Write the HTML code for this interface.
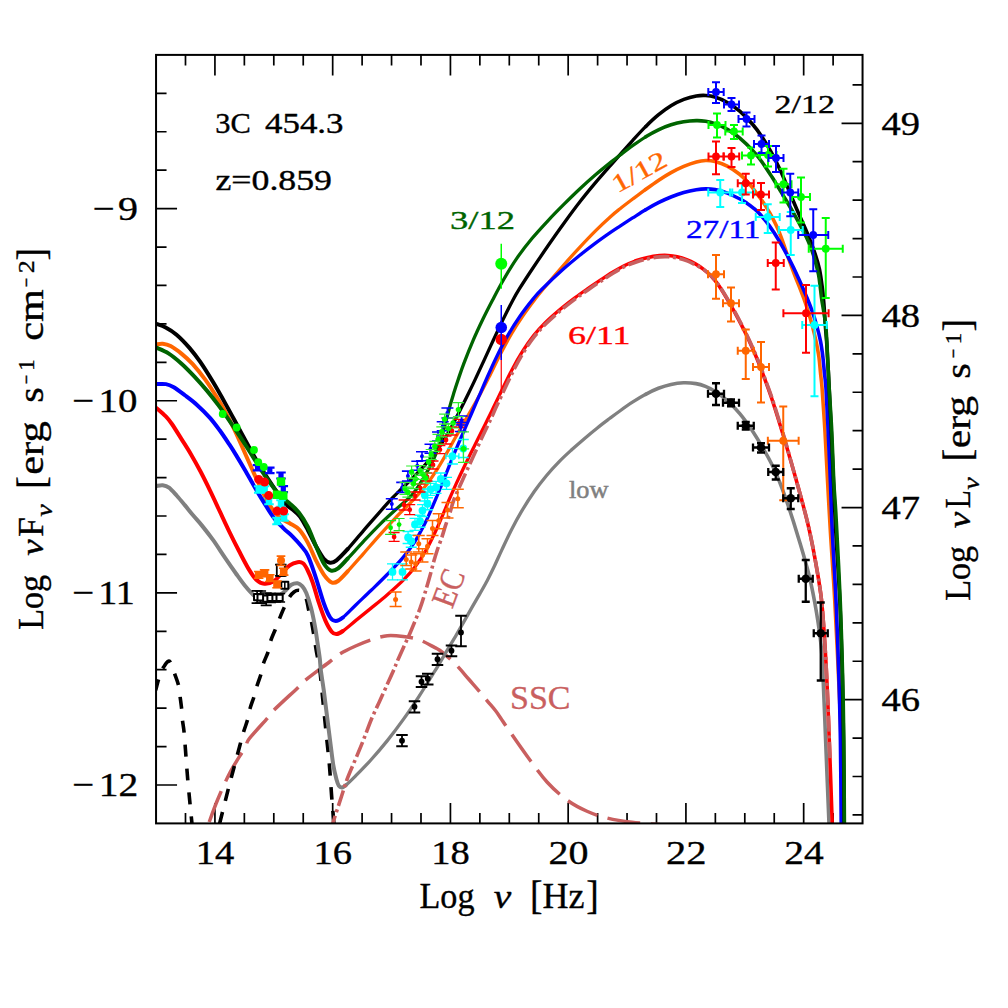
<!DOCTYPE html>
<html><head><meta charset="utf-8"><title>3C 454.3 SED</title>
<style>
html,body{margin:0;padding:0;background:#fff;}
body{width:1008px;height:1008px;overflow:hidden;font-family:"Liberation Serif",serif;}
svg{display:block;}
text{font-family:"Liberation Serif",serif;}
</style></head><body>
<svg width="1008" height="1008" viewBox="0 0 1008 1008">
<rect x="0" y="0" width="1008" height="1008" fill="#fff"/>
<defs><clipPath id="cp"><rect x="156.05" y="54.9" width="706.5" height="768.5"/></clipPath></defs>
<path d="M185.49,823.4v-10.5M185.49,54.9v10.5M214.93,823.4v-20.5M214.93,54.9v20.5M244.36,823.4v-10.5M244.36,54.9v10.5M273.8,823.4v-10.5M273.8,54.9v10.5M303.24,823.4v-10.5M303.24,54.9v10.5M332.68,823.4v-20.5M332.68,54.9v20.5M362.11,823.4v-10.5M362.11,54.9v10.5M391.55,823.4v-10.5M391.55,54.9v10.5M420.99,823.4v-10.5M420.99,54.9v10.5M450.43,823.4v-20.5M450.43,54.9v20.5M479.86,823.4v-10.5M479.86,54.9v10.5M509.3,823.4v-10.5M509.3,54.9v10.5M538.74,823.4v-10.5M538.74,54.9v10.5M568.17,823.4v-20.5M568.17,54.9v20.5M597.61,823.4v-10.5M597.61,54.9v10.5M627.05,823.4v-10.5M627.05,54.9v10.5M656.49,823.4v-10.5M656.49,54.9v10.5M685.92,823.4v-20.5M685.92,54.9v20.5M715.36,823.4v-10.5M715.36,54.9v10.5M744.8,823.4v-10.5M744.8,54.9v10.5M774.24,823.4v-10.5M774.24,54.9v10.5M803.67,823.4v-20.5M803.67,54.9v20.5M833.11,823.4v-10.5M833.11,54.9v10.5M156.05,784.98h21M156.05,746.55h10.5M156.05,708.13h10.5M156.05,669.7h10.5M156.05,631.28h10.5M156.05,592.85h21M156.05,554.43h10.5M156.05,516h10.5M156.05,477.58h10.5M156.05,439.15h10.5M156.05,400.73h21M156.05,362.3h10.5M156.05,323.88h10.5M156.05,285.45h10.5M156.05,247.03h10.5M156.05,208.6h21M156.05,170.18h10.5M156.05,131.75h10.5M156.05,93.33h10.5M862.55,814.95h-10M862.55,776.52h-10M862.55,738.1h-10M862.55,699.67h-21M862.55,661.25h-10M862.55,622.82h-10M862.55,584.4h-10M862.55,545.97h-10M862.55,507.55h-21M862.55,469.12h-10M862.55,430.7h-10M862.55,392.27h-10M862.55,353.85h-10M862.55,315.42h-21M862.55,277h-10M862.55,238.57h-10M862.55,200.15h-10M862.55,161.72h-10M862.55,123.3h-21M862.55,84.87h-10" stroke="#000" stroke-width="1.7" fill="none"/>
<g clip-path="url(#cp)" fill="none" stroke-linejoin="round">
<path d="M208.5,824C210,820 213.92,808.58 217.5,800C221.08,791.42 225.42,781.25 230,772.5C234.58,763.75 241.8,753.13 245,747.5C248.2,741.87 245.45,743.6 249.2,738.7C252.95,733.8 263.4,722.85 267.5,718.1C271.6,713.35 268.78,715.23 273.8,710.2C278.82,705.17 292.4,692.85 297.6,687.9C302.8,682.95 299.6,684.9 305,680.5C310.4,676.1 324.22,665.92 330,661.5C335.78,657.08 335.43,656.58 339.7,654C343.97,651.42 350.32,648.38 355.6,646C360.88,643.62 366.12,641.42 371.4,639.7C376.68,637.98 382,636.23 387.3,635.7C392.6,635.17 397.92,635.83 403.2,636.5C408.48,637.17 413.72,637.85 419,639.7C424.28,641.55 431.4,645.8 434.9,647.6C438.4,649.4 437.57,648.7 440,650.5C442.43,652.3 446.33,655.5 449.5,658.4C452.67,661.3 455.82,664.47 459,667.9C462.18,671.33 465.15,675.03 468.6,679C472.05,682.97 476.53,687.98 479.7,691.7C482.87,695.42 484.95,698.12 487.6,701.3C490.25,704.48 493.35,707.9 495.6,710.8C497.85,713.7 499.2,715.92 501.1,718.7C503,721.48 502.68,721.28 507,727.5C511.32,733.72 520.33,746.92 527,756C533.67,765.08 540.33,774.67 547,782C553.67,789.33 560.33,795.12 567,800C573.67,804.88 580.33,808.25 587,811.25C593.67,814.25 599.5,816.16 607,818C614.5,819.84 623.17,821.22 632,822.3C640.83,823.38 655.33,824.13 660,824.5" stroke="#c95f5f" stroke-width="3.5" stroke-dasharray="33 10.5" stroke-dashoffset="41.1"/>
<path d="M219.5,824C220.42,820.33 223.25,808.92 225,802C226.75,795.08 227.5,792 230,782.5C232.5,773 237.72,753.48 240,745C242.28,736.52 242.43,735.82 243.7,731.6C244.97,727.38 246.55,723.53 247.6,719.7C248.65,715.87 248.93,712.43 250,708.6C251.07,704.77 252.82,700.53 254,696.7C255.18,692.87 255.92,689.43 257.1,685.6C258.28,681.77 260.03,677.42 261.1,673.7C262.17,669.98 262.3,667.02 263.5,663.3C264.7,659.58 267.12,655.1 268.3,651.4C269.48,647.7 269.42,644.8 270.6,641.1C271.78,637.4 273.93,632.9 275.4,629.2C276.87,625.5 277.95,622.47 279.4,618.9C280.85,615.33 282.38,611.5 284.1,607.8C285.82,604.1 288.05,599.33 289.7,596.7C291.35,594.07 292.55,593.07 294,592C295.45,590.93 296.98,590.3 298.4,590.3C299.82,590.3 301.18,590.55 302.5,592C303.82,593.45 305.27,595.97 306.3,599C307.33,602.03 307.83,606.37 308.7,610.2C309.57,614.03 310.62,617.7 311.5,622C312.38,626.3 313.17,631 314,636C314.83,641 315.53,646.33 316.5,652C317.47,657.67 318.72,661.72 319.8,670C320.88,678.28 321.93,691.12 323,701.7C324.07,712.28 325.13,722.92 326.2,733.5C327.27,744.08 328.48,754.62 329.4,765.2C330.32,775.78 330.98,787.73 331.7,797C332.42,806.27 333.32,816.3 333.7,820.8C334.08,825.3 333.95,823.47 334,824" stroke="#000000" stroke-width="3.6" stroke-dasharray="12.4 11.4" stroke-dashoffset="0"/>
<path d="M156.3,486C157.37,485.87 160.58,484.93 162.7,485.2C164.82,485.47 166.64,485.84 169,487.6C171.36,489.36 174.2,492.82 176.84,495.75C179.48,498.67 182.13,501.9 184.83,505.15C187.54,508.4 190.18,511.8 193.07,515.25C195.97,518.71 198.84,521.71 202.2,525.87C205.55,530.03 209.44,534.96 213.2,540.21C216.96,545.46 220.99,551.89 224.76,557.4C228.52,562.9 232.38,568.47 235.78,573.24C239.19,578.01 242.03,582.16 245.2,586C248.37,589.84 252,593.88 254.8,596.3C257.6,598.72 259.13,599.88 262,600.5C264.87,601.12 269,600.83 272,600C275,599.17 277.85,596.98 280,595.5C282.15,594.02 283.02,592.88 284.9,591.1C286.78,589.32 289.18,586.12 291.3,584.8C293.42,583.48 295.75,582.95 297.6,583.2C299.45,583.45 300.95,584.67 302.4,586.3C303.85,587.93 304.85,589.4 306.3,593C307.75,596.6 309.63,602.23 311.1,607.9C312.57,613.57 314.03,621.17 315.1,627C316.17,632.83 316.72,637.62 317.5,642.9C318.28,648.18 319.25,654.18 319.8,658.7C320.35,663.22 320.13,664.68 320.8,670C321.47,675.32 322.77,682.93 323.8,690.6C324.83,698.27 325.93,707.53 327,716C328.07,724.47 329.15,733.2 330.2,741.4C331.25,749.6 332.25,758.85 333.3,765.2C334.35,771.55 335.57,776.05 336.5,779.5C337.43,782.95 337.97,784.57 338.9,785.9C339.83,787.23 340.92,787.63 342.1,787.5C343.28,787.37 343.78,787 346,785.1" stroke="#808080" stroke-width="4.0" stroke-linecap="round" />
<path d="M346,785.1C348.22,783.2 351.26,780.27 355.4,776.09C359.54,771.91 365.59,765.82 370.84,759.99C376.1,754.16 381.64,747.71 386.94,741.11C392.24,734.51 397.35,727.78 402.64,720.4C407.93,713.01 413.36,704.96 418.69,696.8C424.02,688.64 430.89,677.48 434.63,671.44C438.36,665.4 438.87,664.3 441.1,660.56C443.33,656.81 445.56,653.04 447.99,648.95C450.41,644.87 453.03,640.57 455.67,636.06C458.3,631.55 461.09,626.62 463.79,621.89C466.48,617.16 469.19,612.31 471.83,607.68C474.48,603.04 477.08,598.62 479.66,594.08C482.24,589.54 484.92,584.89 487.29,580.43C489.65,575.97 491.39,572.47 493.84,567.33C496.29,562.2 498.98,555.97 501.96,549.62C504.95,543.27 508.53,535.52 511.75,529.23C514.96,522.93 517.5,518.14 521.25,511.86C525,505.58 530.05,497.61 534.27,491.54C538.5,485.47 542.41,480.47 546.6,475.44C550.8,470.4 555.26,465.62 559.44,461.34C563.61,457.06 567.51,453.55 571.66,449.77C575.81,445.99 580.07,442.3 584.35,438.65C588.63,435.01 593.13,431.28 597.33,427.93C601.54,424.57 605.78,421.41 609.58,418.54C613.39,415.68 616.29,413.49 620.17,410.73C624.05,407.97 628.63,404.72 632.88,401.98C637.13,399.24 641.42,396.58 645.67,394.29" stroke="#808080" stroke-width="3.3" stroke-linecap="round" />
<path d="M645.67,394.29C649.93,392.01 654.19,389.92 658.41,388.27C662.63,386.62 666.81,385.31 671,384.4C675.18,383.48 679.37,382.93 683.53,382.8C687.7,382.67 692.31,383.02 695.96,383.62C699.62,384.23 702.34,385.15 705.48,386.42C708.62,387.69 711.22,388.92 714.81,391.25C718.4,393.57 722.88,396.66 727.05,400.39C731.21,404.11 735.76,408.8 739.77,413.58C743.79,418.36 747.32,423.34 751.16,429.05C754.99,434.77 759.38,442.02 762.8,447.86C766.22,453.69 768.91,458.49 771.67,464.07C774.43,469.66 776.52,474.18 779.36,481.35C782.2,488.52 785.53,497.71 788.7,507.1C791.87,516.49 794.99,526.37 798.37,537.69C801.76,549 805.98,562.53 809,575C812.02,587.47 814.42,600 816.5,612.5C818.58,625 820.25,635.42 821.5,650C822.75,664.58 823.25,683.33 824,700C824.75,716.67 825.17,729.33 826,750C826.83,770.67 828.5,811.67 829,824" stroke="#808080" stroke-width="3.6" stroke-linecap="round" />
<path d="M155.6,690.3C156.12,688.45 157.8,682.25 158.7,679.2C159.6,676.15 160.2,673.98 161,672C161.8,670.02 162.42,669.02 163.5,667.3C164.58,665.58 166.32,662.5 167.5,661.7C168.68,660.9 169.42,660.5 170.6,662.5C171.78,664.5 173.27,669.85 174.6,673.7C175.93,677.55 177.67,681.63 178.6,685.6C179.53,689.57 179.68,693.53 180.2,697.5C180.72,701.47 181.32,705.57 181.7,709.4C182.08,713.23 182.1,716.67 182.5,720.5C182.9,724.33 183.52,726.32 184.1,732.4C184.68,738.48 185.35,748.65 186,757C186.65,765.35 187,771.33 188,782.5C189,793.67 191.33,817.08 192,824" stroke="#000000" stroke-width="3.6" stroke-dasharray="12 12" stroke-dashoffset="1"/>
<path d="M156.3,407.9C157.85,409.29 162.97,413.53 165.58,416.22C168.18,418.9 169.2,420.1 171.91,424C174.62,427.9 178.64,434.54 181.83,439.62C185.02,444.69 187.9,449.1 191.04,454.46C194.18,459.82 197.47,465.71 200.66,471.77C203.85,477.84 206.99,484.25 210.18,490.86C213.37,497.46 216.59,504.53 219.81,511.4C223.03,518.26 226.31,525.44 229.52,532.04C232.72,538.65 235.88,544.94 239.02,551.04C242.17,557.13 245.52,563.82 248.4,568.6C251.28,573.38 253.65,577.18 256.3,579.7C258.95,582.22 261.38,583.43 264.3,583.7C267.22,583.97 270.9,583.03 273.8,581.3C276.7,579.57 279.05,575.95 281.7,573.3C284.35,570.65 287.05,567.25 289.7,565.4C292.35,563.55 295.38,562.55 297.6,562.2C299.82,561.85 301.35,562 303,563.3C304.65,564.6 305.88,566.8 307.5,570C309.12,573.2 310.78,576.97 312.7,582.5C314.62,588.03 316.88,596.85 319,603.2C321.12,609.55 323.28,615.85 325.4,620.6C327.52,625.35 329.85,629.45 331.7,631.7C333.55,633.95 334.63,634.22 336.5,634.1C338.37,633.98 339.71,633.24 342.9,631" stroke="#ff0000" stroke-width="4.0" stroke-linecap="round" />
<path d="M342.9,631C346.09,628.76 350.89,624.5 355.63,620.64C360.38,616.79 366.15,612.18 371.39,607.89C376.62,603.59 381.8,599.44 387.04,594.89C392.27,590.34 398.19,585.17 402.8,580.59C407.41,576 410.85,572.42 414.72,567.36C418.59,562.31 422.45,556.48 426.02,550.26C429.59,544.04 432.87,537.12 436.15,530.04C439.44,522.97 443.58,512.87 445.75,507.8C447.91,502.73 447.39,503.67 449.14,499.64C450.89,495.61 453.85,488.86 456.24,483.62C458.63,478.38 461.09,473.15 463.47,468.18C465.85,463.21 468.14,458.58 470.5,453.8C472.86,449.02 475.24,444.28 477.62,439.51C480,434.74 482.42,429.95 484.78,425.19C487.15,420.43 489.3,416.12 491.82,410.96C494.33,405.8 496.55,401.04 499.88,394.24C503.2,387.45 507.96,377.36 511.76,370.19C515.55,363.02 518.96,357.01 522.64,351.21C526.32,345.41 530.09,340.11 533.82,335.39C537.55,330.68 540.61,327.27 545.01,322.92C549.42,318.57 555.21,313.52 560.24,309.29C565.27,305.07 570.67,300.97 575.2,297.57C579.72,294.16 583.28,291.72 587.41,288.86C591.53,285.99 595.81,283.13 599.93,280.39C604.05,277.66 608.09,274.9 612.12,272.44C616.15,269.99 620.17,267.63 624.13,265.67C628.09,263.72 631.95,262.1 635.88,260.72" stroke="#ff0000" stroke-width="3.3" stroke-linecap="round" />
<path d="M635.88,260.72C639.82,259.34 643.8,258.25 647.75,257.39C651.69,256.54 656.18,255.94 659.53,255.61C662.89,255.29 664.92,255.27 667.87,255.46C670.83,255.65 674.13,256.05 677.26,256.74C680.39,257.43 683.71,258.45 686.67,259.59C689.62,260.73 692.22,262 694.98,263.58C697.75,265.16 700.53,266.94 703.26,269.06C705.98,271.17 708.68,273.43 711.33,276.26C713.97,279.08 716,281.42 719.11,286.01C722.21,290.6 726.62,298.04 729.97,303.82C733.31,309.6 736.07,314.69 739.19,320.67C742.3,326.64 745.58,333.01 748.67,339.66C751.76,346.3 754.47,352.38 757.74,360.54C761.01,368.7 765.67,381.44 768.29,388.63C770.91,395.82 770.88,395.61 773.46,403.68C776.05,411.76 780.38,425.67 783.79,437.06C787.21,448.45 790.64,460.34 793.95,472.02C797.25,483.69 801,497.08 803.63,507.1C806.27,517.11 807.74,522.86 809.75,532.11C811.76,541.37 813.74,551.32 815.7,562.64C817.66,573.95 819.91,585.44 821.5,600C823.09,614.56 824.21,633.33 825.25,650C826.29,666.67 826.96,681.67 827.75,700C828.54,718.33 829.25,739.33 830,760C830.75,780.67 831.88,813.33 832.25,824" stroke="#ff0000" stroke-width="3.6" stroke-linecap="round" />
<path d="M332.6,824C332.85,823.2 332.65,823.7 334.1,819.2C335.55,814.7 339.05,803.88 341.3,797C343.55,790.12 345.22,784.25 347.6,777.9C349.98,771.55 352.95,765.25 355.6,758.9C358.25,752.55 360.87,746.42 363.5,739.8C366.13,733.18 368.75,725.55 371.4,719.2C374.05,712.85 376.75,707.52 379.4,701.7C382.05,695.88 384.92,689.58 387.3,684.3C389.68,679.02 391.85,674.27 393.7,670C395.55,665.73 395.58,665.08 398.4,658.7C401.22,652.32 406.97,640.17 410.6,631.7C414.23,623.23 417.53,615.27 420.2,607.9C422.87,600.53 424.93,592.98 426.6,587.5C428.27,582.02 429.01,579.32 430.2,575C431.39,570.68 432.57,565.77 433.75,561.6C434.93,557.43 435.96,554.02 437.3,550C438.64,545.98 440.45,541.52 441.8,537.5C443.15,533.48 443.98,530.22 445.4,525.9C446.82,521.58 448.9,515.92 450.3,511.6C451.7,507.28 451.85,505.07 453.8,500C455.75,494.93 458.83,488.3 462,481.2C465.17,474.1 469.35,464.93 472.8,457.4C476.25,449.87 479.63,442.55 482.7,436C485.77,429.45 488.7,423.47 491.2,418.1C493.7,412.73 493.96,411.78 497.7,403.8C501.44,395.82 509.25,378.96 513.66,370.19C518.08,361.43 520.68,356.87 524.19,351.21C527.69,345.54 531.06,340.77 534.67,336.19C538.28,331.61 541.46,328.07 545.86,323.72C550.27,319.37 556.06,314.32 561.09,310.09C566.12,305.87 571.52,301.77 576.05,298.37C580.57,294.96 584.13,292.52 588.26,289.66C592.38,286.79 596.66,283.93 600.78,281.19C604.9,278.46 608.94,275.7 612.97,273.24C617,270.79 621.1,268.34 624.98,266.47C628.87,264.6 632.42,263.32 636.28,262.02C640.14,260.73 644.2,259.55 648.15,258.69C652.09,257.84 656.58,257.24 659.93,256.91C663.29,256.59 665.32,256.57 668.27,256.76C671.23,256.95 674.53,257.35 677.66,258.04C680.79,258.73 684.11,259.75 687.07,260.89C690.02,262.03 692.57,263.42 695.38,264.88C698.2,266.34 701.18,267.66 703.96,269.66C706.73,271.65 709.38,274.03 712.03,276.86C714.67,279.68 716.7,282.02 719.81,286.61C722.91,291.2 727.32,298.64 730.67,304.42C734.01,310.2 736.82,315.38 739.89,321.27C742.95,327.16 746.03,333.19 749.07,339.76C752.11,346.32 754.87,352.48 758.14,360.64C761.41,368.8 766.07,381.54 768.69,388.73C771.31,395.92 771.28,395.71 773.86,403.78C776.45,411.86 780.85,425.79 784.19,437.16C787.54,448.53 790.71,460.36 793.95,472.02C797.19,483.67 801,497.08 803.63,507.1C806.27,517.11 807.74,522.86 809.75,532.11C811.76,541.37 813.74,551.32 815.7,562.64C817.66,573.95 819.91,585.44 821.5,600C823.09,614.56 824.21,633.33 825.25,650C826.29,666.67 826.96,681.67 827.75,700C828.54,718.33 829.62,750 830,760" stroke="#c95f5f" stroke-width="3.6" stroke-dasharray="16 3.6 3 3.6" stroke-dashoffset="7.2"/>
<path d="M156.3,344.4C157.37,344.28 160.32,343.43 162.7,343.7C165.08,343.97 167.48,344.35 170.6,346C173.72,347.65 177.76,350.6 181.41,353.58C185.06,356.55 188.54,359.52 192.51,363.86C196.48,368.21 201.23,374.15 205.25,379.65C209.26,385.15 213.15,391.33 216.6,396.86C220.05,402.39 222.8,407.02 225.94,412.84C229.08,418.67 232.5,425.54 235.47,431.81C238.44,438.08 240.82,443.82 243.78,450.47C246.73,457.12 250.28,465.26 253.21,471.7C256.14,478.13 258.46,483.24 261.36,489.07C264.25,494.91 267.46,501.91 270.6,506.7C273.74,511.49 277.02,515.03 280.2,517.8C283.38,520.57 286.53,521.32 289.7,523.3C292.87,525.28 296.17,526.43 299.2,529.7C302.23,532.97 305.12,537.8 307.9,542.9C310.68,548 313.25,555.02 315.9,560.3C318.55,565.58 321.17,570.9 323.8,574.6C326.43,578.3 329.32,581.43 331.7,582.5C334.08,583.57 335.45,582.85 338.1,581C340.75,579.15 343.41,575.93 347.6,571.4" stroke="#ff6600" stroke-width="4.0" stroke-linecap="round" />
<path d="M347.6,571.4C351.79,566.87 357.92,559.84 363.26,553.79C368.6,547.74 374.28,541.12 379.65,535.12C385.03,529.12 390.25,523.36 395.52,517.8C400.79,512.25 407.98,505.17 411.29,501.81C414.6,498.45 412.78,500.59 415.37,497.66C417.97,494.73 423.32,488.8 426.87,484.23C430.41,479.66 433.4,475.32 436.66,470.22C439.92,465.13 443.5,458.74 446.42,453.65C449.34,448.56 451.37,444.65 454.17,439.7C456.97,434.75 460.11,429.34 463.21,423.95C466.32,418.55 469.82,412.59 472.79,407.34C475.77,402.09 478.34,397.51 481.06,392.42C483.78,387.34 485.91,383.17 489.12,376.81C492.33,370.45 496.59,361.46 500.33,354.26C504.06,347.06 507.84,339.95 511.54,333.62C515.25,327.29 518.7,321.99 522.58,316.3C526.46,310.62 531.38,304.07 534.82,299.52C538.26,294.96 538.41,294.71 543.23,288.97C548.04,283.23 557.66,271.98 563.7,265.08C569.74,258.18 574.12,253.31 579.46,247.55C584.8,241.8 590.43,235.81 595.75,230.55C601.06,225.29 607.28,219.61 611.34,215.98C615.39,212.34 616.53,211.55 620.1,208.72C623.66,205.9 628.5,202.23 632.72,199.03C636.95,195.84 641.16,192.65 645.43,189.55" stroke="#ff6600" stroke-width="3.3" stroke-linecap="round" />
<path d="M645.43,189.55C649.71,186.44 654.1,183.22 658.37,180.39C662.64,177.56 666.83,174.91 671.06,172.57C675.29,170.22 679.53,168.07 683.76,166.3C687.98,164.52 692.76,162.85 696.42,161.89C700.08,160.92 702.64,160.58 705.73,160.5C708.81,160.43 711.34,160.51 714.93,161.44C718.52,162.38 723.1,163.95 727.26,166.13C731.43,168.31 736.24,171.56 739.92,174.52C743.61,177.48 746.07,180.07 749.37,183.89C752.68,187.71 757.26,194.09 759.75,197.46C762.24,200.84 762.69,201.58 764.33,204.12C765.97,206.65 767.73,209.37 769.6,212.67C771.48,215.98 773.91,220.56 775.57,223.96C777.24,227.36 778.34,229.98 779.6,233.08C780.85,236.18 781.56,238.18 783.1,242.57C784.65,246.95 786.95,253.95 788.89,259.4C790.83,264.86 792.85,270.3 794.76,275.3C796.66,280.29 798.78,285.38 800.33,289.37C801.89,293.36 802.89,295.89 804.09,299.24C805.3,302.59 806.22,305.13 807.57,309.47C808.92,313.81 810.8,319.99 812.2,325.28C813.6,330.57 814.86,335.92 815.98,341.21C817.1,346.49 818.15,351.72 818.9,357C819.65,362.28 819.97,367.62 820.5,372.9C821.03,378.18 821.35,378.85 822.1,388.7C822.85,398.55 824.08,416.45 825,432C825.92,447.55 826.7,465.33 827.6,482C828.5,498.67 829.22,512.33 830.4,532C831.58,551.67 833.17,572 834.7,600C836.23,628 838.47,673.33 839.6,700C840.73,726.67 841.05,739.33 841.5,760C841.95,780.67 842.17,813.33 842.3,824" stroke="#ff6600" stroke-width="3.6" stroke-linecap="round" />
<path d="M156.3,384.1C157.9,384.1 162.98,383.57 165.9,384.1C168.82,384.63 170.64,385.44 173.8,387.3C176.96,389.16 180.93,392.29 184.85,395.27C188.77,398.24 193.11,401.39 197.29,405.15C201.48,408.91 206.21,413.63 209.94,417.82C213.67,422.01 216.44,425.85 219.67,430.29C222.91,434.73 226.68,440.43 229.34,444.44C232,448.45 233.01,450.04 235.63,454.34C238.26,458.65 241.87,464.73 245.09,470.27C248.3,475.8 251.69,482.01 254.91,487.53C258.14,493.06 261.3,498.36 264.44,503.41C267.59,508.45 270.66,513.68 273.8,517.8C276.94,521.92 280.12,524.93 283.3,528.1C286.48,531.27 289.98,533.88 292.9,536.8C295.82,539.72 298.3,542.47 300.8,545.6C303.3,548.73 305.38,550.23 307.9,555.6C310.42,560.97 313.25,569.87 315.9,577.8C318.55,585.73 321.42,596.58 323.8,603.2C326.18,609.82 328.22,614.53 330.2,617.5C332.18,620.47 333.58,621 335.7,621C337.82,621 339.55,620.17 342.9,617.5" stroke="#0000ff" stroke-width="4.0" stroke-linecap="round" />
<path d="M342.9,617.5C346.25,614.83 351.07,609.53 355.79,605C360.5,600.46 365.95,595.36 371.19,590.28C376.42,585.19 381.98,579.87 387.2,574.5C392.42,569.14 397.94,563.5 402.51,558.09C407.07,552.68 410.84,547.8 414.57,542.05C418.3,536.29 422.15,528.9 424.89,523.56C427.63,518.22 429.14,514.26 431.01,510C432.88,505.75 434.15,502.67 436.1,498.04C438.05,493.41 440.51,487.61 442.7,482.24C444.89,476.86 447.17,470.93 449.24,465.79C451.31,460.66 452.77,457.01 455.12,451.45C457.46,445.89 460.56,438.77 463.32,432.41C466.07,426.05 469.06,419.23 471.65,413.28C474.23,407.33 476.41,402.25 478.81,396.7C481.2,391.16 483.23,386.31 486.03,380.01C488.83,373.72 492.1,366.11 495.59,358.93C499.08,351.75 502.93,344 506.97,336.93C511,329.86 515.39,322.91 519.79,316.53C524.2,310.15 529.69,303.19 533.37,298.64C537.05,294.1 536.79,294.26 541.88,289.25C546.97,284.24 557.66,274.22 563.93,268.59C570.19,262.96 574.21,259.74 579.47,255.48C584.72,251.23 590.18,247.01 595.47,243.06C600.77,239.12 607.15,234.65 611.24,231.81C615.33,228.97 616.45,228.33 620.02,226.02C623.58,223.72 628.34,220.67 632.61,217.96C636.88,215.26 641.34,212.32 645.63,209.78" stroke="#0000ff" stroke-width="3.3" stroke-linecap="round" />
<path d="M645.63,209.78C649.92,207.23 654.14,204.83 658.35,202.7C662.57,200.58 666.71,198.71 670.93,197.02C675.16,195.34 679.48,193.81 683.7,192.6C687.93,191.38 692.62,190.37 696.28,189.75C699.95,189.14 702.58,188.92 705.71,188.9C708.84,188.88 711.44,188.92 715.06,189.62C718.68,190.31 723.2,191.48 727.44,193.08C731.67,194.69 737.22,197.56 740.46,199.24C743.7,200.92 744.66,201.67 746.88,203.18C749.1,204.69 751.64,206.52 753.76,208.29C755.88,210.07 757,210.9 759.58,213.8C762.16,216.7 765.96,221.15 769.24,225.68C772.52,230.22 775.89,235.35 779.27,241.01C782.65,246.67 786.2,253.21 789.51,259.65C792.83,266.09 796.16,273.05 799.17,279.64C802.18,286.23 805.41,293.96 807.57,299.21C809.74,304.46 810.65,306.76 812.16,311.12C813.67,315.49 815.26,320.38 816.65,325.38C818.04,330.37 819.46,335.83 820.5,341.1C821.54,346.37 822.25,351.7 822.9,357C823.55,362.3 823.88,367.62 824.4,372.9C824.92,378.18 825.37,378.85 826,388.7C826.63,398.55 827.47,416.45 828.2,432C828.93,447.55 829.72,465.33 830.4,482C831.08,498.67 831.37,512.33 832.3,532C833.23,551.67 834.92,576.17 836,600C837.08,623.83 838.07,651.67 838.8,675C839.53,698.33 840,715.17 840.4,740C840.8,764.83 841.07,810 841.2,824" stroke="#0000ff" stroke-width="3.6" stroke-linecap="round" />
<path d="M156.3,323.8C157.86,324.42 162.29,325.7 165.66,327.51C169.03,329.32 172.55,331.3 176.52,334.68C180.48,338.07 185.45,343.25 189.44,347.83C193.42,352.4 196.45,356.36 200.43,362.15C204.42,367.95 209.07,375.47 213.35,382.59C217.63,389.71 222.11,397.72 226.1,404.86C230.09,411.99 233.58,418.55 237.3,425.4C241.02,432.25 245.51,440.64 248.44,445.98C251.37,451.32 252.22,452.91 254.89,457.45C257.55,461.99 261.27,468.2 264.44,473.21C267.6,478.23 270.46,482.51 273.87,487.55C277.28,492.6 281.73,499.79 284.9,503.5C288.07,507.21 290.38,507.63 292.9,509.8C295.42,511.97 297.5,513.1 300,516.5C302.5,519.9 305.25,525.28 307.9,530.2C310.55,535.12 313.25,541.25 315.9,546C318.55,550.75 321.42,555.92 323.8,558.7C326.18,561.48 328.08,562.43 330.2,562.7C332.32,562.97 333.6,562.55 336.5,560.3C339.4,558.05 343.07,554.19 347.6,549.2" stroke="#000000" stroke-width="4.0" stroke-linecap="round" />
<path d="M347.6,549.2C352.13,544.21 358.43,536.48 363.71,530.38C368.98,524.27 374.47,517.97 379.25,512.57C384.03,507.16 388.9,501.7 392.39,497.97C395.87,494.23 396.92,493.34 400.15,490.15C403.39,486.95 407.78,482.9 411.81,478.81C415.85,474.72 420.57,469.88 424.38,465.62C428.18,461.36 431.44,457.45 434.66,453.24C437.88,449.02 440.96,444.62 443.71,440.33C446.46,436.03 448.3,432.77 451.17,427.48C454.04,422.19 458.13,414.11 460.95,408.57C463.76,403.04 465.73,399.06 468.07,394.28C470.41,389.51 472.33,385.56 474.99,379.9C477.65,374.24 480.96,367.02 484.05,360.32C487.14,353.62 490.32,346.58 493.52,339.71C496.72,332.84 500.03,325.71 503.25,319.12C506.46,312.53 510.15,305.21 512.83,300.18C515.52,295.15 516.19,293.99 519.34,288.91C522.5,283.84 527.02,276.89 531.77,269.74C536.52,262.6 542.54,253.73 547.84,246.06C553.14,238.4 558.23,231.13 563.58,223.76C568.92,216.38 574.6,208.65 579.92,201.8C585.24,194.95 590.32,188.82 595.5,182.66C600.68,176.5 606.94,169.51 611.03,164.84C615.12,160.17 616.42,158.71 620.04,154.63C623.66,150.55 628.46,145.05 632.76,140.35C637.06,135.65 641.53,130.71 645.84,126.43" stroke="#000000" stroke-width="3.3" stroke-linecap="round" />
<path d="M645.84,126.43C650.14,122.15 654.34,118.17 658.59,114.69C662.84,111.2 667.13,108.06 671.35,105.5C675.57,102.95 679.73,100.94 683.89,99.36C688.06,97.77 692.7,96.65 696.33,96.01C699.96,95.36 702.58,95.29 705.67,95.47C708.76,95.65 711.27,95.91 714.88,97.07C718.49,98.23 723.18,100.08 727.32,102.44C731.47,104.79 735.52,107.57 739.73,111.21C743.94,114.86 748.81,119.93 752.58,124.3C756.36,128.67 759.17,132.61 762.38,137.44C765.59,142.28 768.96,148.03 771.85,153.29C774.75,158.56 777.31,163.9 779.72,169.03C782.13,174.16 784.12,178.93 786.31,184.08C788.49,189.23 790.55,194.5 792.84,199.94C795.13,205.39 797.65,211.25 800.04,216.75C802.43,222.24 804.77,227.02 807.18,232.89C809.58,238.76 812.42,245.88 814.47,251.96C816.53,258.05 818.16,263.18 819.5,269.4C820.84,275.62 821.83,284.33 822.5,289.3C823.17,294.27 823.2,295.85 823.5,299.2C823.8,302.55 824,305.07 824.3,309.4C824.6,313.73 824.92,319.92 825.3,325.2C825.68,330.48 826.23,335.8 826.6,341.1C826.97,346.4 827.2,351.7 827.5,357C827.8,362.3 828.12,367.62 828.4,372.9C828.68,378.18 828.72,378.85 829.2,388.7C829.68,398.55 830.58,416.45 831.3,432C832.02,447.55 832.75,465.33 833.5,482C834.25,498.67 834.75,512.33 835.8,532C836.85,551.67 838.72,576.17 839.8,600C840.88,623.83 841.68,651.67 842.3,675C842.92,698.33 843.18,715.17 843.5,740C843.82,764.83 844.08,810 844.2,824" stroke="#000000" stroke-width="3.6" stroke-linecap="round" />
<path d="M156.3,347.6C158.33,348.55 164.24,350.64 168.45,353.32C172.66,355.99 177.24,359.83 181.54,363.67C185.84,367.51 190.01,371.85 194.24,376.35C198.47,380.85 202.94,385.89 206.92,390.65C210.91,395.41 214.41,399.92 218.14,404.92C221.88,409.92 225.87,415.65 229.32,420.65C232.78,425.65 235.19,429.29 238.88,434.91C242.57,440.54 247.73,448.52 251.46,454.39C255.19,460.25 258.01,465.14 261.25,470.1C264.49,475.07 267.74,479.92 270.9,484.17C274.06,488.42 277.07,492.38 280.2,495.6C283.33,498.82 286.53,500.6 289.7,503.5C292.87,506.4 296.17,509.08 299.2,513C302.23,516.92 305.12,521.5 307.9,527C310.68,532.5 313.25,539.92 315.9,546C318.55,552.08 321.28,559.4 323.8,563.5C326.32,567.6 328.62,569.8 331,570.6C333.38,571.4 335.33,570.28 338.1,568.3C340.87,566.32 343.36,563.19 347.6,558.7" stroke="#006400" stroke-width="4.0" stroke-linecap="round" />
<path d="M347.6,558.7C351.84,554.21 358.16,547.07 363.55,541.34C368.94,535.62 374.61,529.58 379.93,524.33C385.25,519.08 390.86,514.02 395.49,509.83C400.11,505.65 404.7,501.94 407.65,499.22C410.61,496.5 411.33,495.8 413.21,493.51C415.1,491.22 416.72,488.99 418.98,485.46C421.24,481.94 424.32,476.8 426.78,472.37C429.24,467.95 431.76,463.2 433.74,458.94C435.71,454.67 437.08,451.31 438.65,446.81C440.21,442.3 441.32,438.45 443.13,431.9C444.95,425.36 447.78,414.02 449.56,407.56C451.34,401.09 452.4,397.69 453.81,393.1C455.23,388.51 456.38,384.92 458.04,380.01C459.71,375.11 461.24,370.36 463.79,363.68C466.34,356.99 470.17,347.3 473.34,339.89C476.52,332.48 479.63,325.87 482.84,319.22C486.05,312.56 489.14,306.58 492.61,299.95C496.08,293.33 499.59,286.48 503.68,279.46C507.76,272.44 512.37,264.7 517.12,257.84C521.86,250.98 527.02,244.46 532.15,238.28C537.28,232.1 542.64,226.36 547.87,220.76C553.11,215.16 558.26,209.95 563.56,204.66C568.86,199.37 574.35,193.97 579.68,188.99C585,184.01 590.25,179.29 595.52,174.77C600.78,170.26 607.19,165.16 611.25,161.9C615.32,158.65 616.27,157.99 619.88,155.24C623.5,152.5 628.64,148.5 632.94,145.43C637.25,142.35 641.46,139.39 645.71,136.79" stroke="#006400" stroke-width="3.3" stroke-linecap="round" />
<path d="M645.71,136.79C649.95,134.2 654.18,131.84 658.41,129.84C662.63,127.85 666.83,126.17 671.03,124.83C675.24,123.48 679.43,122.49 683.63,121.79C687.82,121.09 692.54,120.73 696.21,120.64C699.87,120.55 702.47,120.77 705.6,121.27C708.72,121.77 711.32,122.31 714.94,123.65C718.57,125 723.22,126.96 727.37,129.35C731.52,131.74 735.64,134.5 739.85,138.01C744.05,141.52 748.85,146.27 752.62,150.4C756.4,154.52 759.28,158.34 762.51,162.78C765.74,167.22 769,172.37 771.99,177.05C774.97,181.73 777.99,186.91 780.39,190.86C782.8,194.81 784.04,196.73 786.41,200.74C788.78,204.76 791.9,210.11 794.6,214.96C797.3,219.81 800.22,225.17 802.62,229.84C805.02,234.51 807.15,238.63 809,242.97C810.84,247.31 812.13,250.63 813.71,255.87C815.29,261.1 817.37,268.83 818.5,274.4C819.63,279.97 819.97,285.17 820.5,289.3C821.03,293.43 821.22,295.85 821.7,299.2C822.18,302.55 822.73,305.07 823.4,309.4C824.07,313.73 825.13,319.92 825.7,325.2C826.27,330.48 826.48,335.8 826.8,341.1C827.12,346.4 827.33,351.7 827.6,357C827.87,362.3 828.13,367.62 828.4,372.9C828.67,378.18 828.63,378.85 829.2,388.7C829.77,398.55 831.03,416.45 831.8,432C832.57,447.55 833.1,468 833.8,482C834.5,496 834.93,496.33 836,516C837.07,535.67 839.1,573.5 840.2,600C841.3,626.5 842,651.67 842.6,675C843.2,698.33 843.5,715.17 843.8,740C844.1,764.83 844.3,810 844.4,824" stroke="#006400" stroke-width="3.6" stroke-linecap="round" />
<path d="M463.3,439.5V457.5M457.8,439.5h11M457.8,457.5h11" stroke="#00ffff" stroke-width="1.3" fill="none"/>
<circle cx="463.3" cy="448.5" r="3.9" fill="#00ffff" stroke="none"/>
<path d="M452.4,448.4V464M446.9,448.4h11M446.9,464h11M445.9,456.2H458.9M445.9,453.2v6M458.9,453.2v6" stroke="#00ffff" stroke-width="1.3" fill="none"/>
<circle cx="452.4" cy="456.2" r="3.9" fill="#00ffff" stroke="none"/>
<path d="M440.8,473V485M435.3,473h11M435.3,485h11" stroke="#00ffff" stroke-width="1.3" fill="none"/>
<circle cx="440.8" cy="479" r="3.9" fill="#00ffff" stroke="none"/>
<path d="M446.5,477.3V489.3M441,477.3h11M441,489.3h11" stroke="#00ffff" stroke-width="1.3" fill="none"/>
<circle cx="446.5" cy="483.3" r="3.9" fill="#00ffff" stroke="none"/>
<path d="M436.1,481.4V493.4M430.6,481.4h11M430.6,493.4h11" stroke="#00ffff" stroke-width="1.3" fill="none"/>
<circle cx="436.1" cy="487.4" r="3.9" fill="#00ffff" stroke="none"/>
<path d="M430.5,483.3V495.3M425,483.3h11M425,495.3h11" stroke="#00ffff" stroke-width="1.3" fill="none"/>
<circle cx="430.5" cy="489.3" r="3.9" fill="#00ffff" stroke="none"/>
<path d="M424.8,489V501M419.3,489h11M419.3,501h11" stroke="#00ffff" stroke-width="1.3" fill="none"/>
<circle cx="424.8" cy="495" r="3.9" fill="#00ffff" stroke="none"/>
<path d="M427.5,497.75V509.75M422,497.75h11M422,509.75h11" stroke="#00ffff" stroke-width="1.3" fill="none"/>
<circle cx="427.5" cy="503.75" r="3.9" fill="#00ffff" stroke="none"/>
<path d="M422.5,504.6V516.6M417,504.6h11M417,516.6h11" stroke="#00ffff" stroke-width="1.3" fill="none"/>
<circle cx="422.5" cy="510.6" r="3.9" fill="#00ffff" stroke="none"/>
<path d="M420,515.25V527.25M414.5,515.25h11M414.5,527.25h11" stroke="#00ffff" stroke-width="1.3" fill="none"/>
<circle cx="420" cy="521.25" r="3.9" fill="#00ffff" stroke="none"/>
<path d="M415,518.4V530.4M409.5,518.4h11M409.5,530.4h11" stroke="#00ffff" stroke-width="1.3" fill="none"/>
<circle cx="415" cy="524.4" r="3.9" fill="#00ffff" stroke="none"/>
<path d="M408.1,531.5V543.5M402.6,531.5h11M402.6,543.5h11" stroke="#00ffff" stroke-width="1.3" fill="none"/>
<circle cx="408.1" cy="537.5" r="3.9" fill="#00ffff" stroke="none"/>
<path d="M411.25,535.25V547.25M405.75,535.25h11M405.75,547.25h11" stroke="#00ffff" stroke-width="1.3" fill="none"/>
<circle cx="411.25" cy="541.25" r="3.9" fill="#00ffff" stroke="none"/>
<path d="M392.5,563.9V579.9M387,563.9h11M387,579.9h11" stroke="#00ffff" stroke-width="1.3" fill="none"/>
<circle cx="392.5" cy="571.9" r="3.9" fill="#00ffff" stroke="none"/>
<path d="M402.5,563.9V579.9M397,563.9h11M397,579.9h11" stroke="#00ffff" stroke-width="1.3" fill="none"/>
<circle cx="402.5" cy="571.9" r="3.9" fill="#00ffff" stroke="none"/>
<path d="M395.6,591.9V606.5M389.6,591.9h12M389.6,606.5h12" stroke="#ff6600" stroke-width="1.5" fill="none"/>
<circle cx="395.6" cy="599.4" r="2.5" fill="#ff6600" stroke="none"/>
<path d="M406.25,551.9V565.6M400.25,551.9h12M400.25,565.6h12" stroke="#ff6600" stroke-width="1.5" fill="none"/>
<circle cx="406.25" cy="559.4" r="2.5" fill="#ff6600" stroke="none"/>
<path d="M411.25,555V569M405.25,555h12M405.25,569h12" stroke="#ff6600" stroke-width="1.5" fill="none"/>
<circle cx="411.25" cy="561.9" r="2.5" fill="#ff6600" stroke="none"/>
<path d="M415.6,553.75V571M409.6,553.75h12M409.6,571h12" stroke="#ff6600" stroke-width="1.5" fill="none"/>
<circle cx="415.6" cy="563.75" r="2.5" fill="#ff6600" stroke="none"/>
<path d="M418.75,535.6V551.9M412.75,535.6h12M412.75,551.9h12" stroke="#ff6600" stroke-width="1.5" fill="none"/>
<circle cx="418.75" cy="543.75" r="2.5" fill="#ff6600" stroke="none"/>
<path d="M422.5,548.75V561.9M416.5,548.75h12M416.5,561.9h12" stroke="#ff6600" stroke-width="1.5" fill="none"/>
<circle cx="422.5" cy="555" r="2.5" fill="#ff6600" stroke="none"/>
<path d="M427.5,538.75V553.75M421.5,538.75h12M421.5,553.75h12" stroke="#ff6600" stroke-width="1.5" fill="none"/>
<circle cx="427.5" cy="546.25" r="2.5" fill="#ff6600" stroke="none"/>
<path d="M432.5,520.6V535.6M426.5,520.6h12M426.5,535.6h12" stroke="#ff6600" stroke-width="1.5" fill="none"/>
<circle cx="432.5" cy="528.5" r="2.5" fill="#ff6600" stroke="none"/>
<path d="M438.75,513.75V528.75M432.75,513.75h12M432.75,528.75h12" stroke="#ff6600" stroke-width="1.5" fill="none"/>
<circle cx="438.75" cy="520.6" r="2.5" fill="#ff6600" stroke="none"/>
<path d="M447.5,502.5V518.1M441.5,502.5h12M441.5,518.1h12" stroke="#ff6600" stroke-width="1.5" fill="none"/>
<circle cx="447.5" cy="510" r="2.5" fill="#ff6600" stroke="none"/>
<path d="M457.8,489.3V507.8M451.8,489.3h12M451.8,507.8h12" stroke="#ff6600" stroke-width="1.5" fill="none"/>
<circle cx="457.8" cy="498.8" r="2.5" fill="#ff6600" stroke="none"/>
<path d="M404.1,500V510M398.6,500h11M398.6,510h11" stroke="#ff0000" stroke-width="1.3" fill="none"/>
<circle cx="404.1" cy="505" r="2.4" fill="#ff0000" stroke="none"/>
<path d="M409.7,504.7V514.7M404.2,504.7h11M404.2,514.7h11" stroke="#ff0000" stroke-width="1.3" fill="none"/>
<circle cx="409.7" cy="509.7" r="2.4" fill="#ff0000" stroke="none"/>
<path d="M394.1,532.5V541.3M388.6,532.5h11M388.6,541.3h11" stroke="#ff0000" stroke-width="1.3" fill="none"/>
<circle cx="394.1" cy="536.9" r="2.4" fill="#ff0000" stroke="none"/>
<path d="M439.9,445.7V453.7M434.4,445.7h11M434.4,453.7h11" stroke="#ff0000" stroke-width="1.3" fill="none"/>
<circle cx="439.9" cy="449.7" r="2.4" fill="#ff0000" stroke="none"/>
<path d="M458.8,419.4V427.4M453.3,419.4h11M453.3,427.4h11" stroke="#ff0000" stroke-width="1.3" fill="none"/>
<circle cx="458.8" cy="423.4" r="2.4" fill="#ff0000" stroke="none"/>
<path d="M415,492V500M409.5,492h11M409.5,500h11" stroke="#ff0000" stroke-width="1.3" fill="none"/>
<circle cx="415" cy="496" r="2.4" fill="#ff0000" stroke="none"/>
<path d="M420,484V492M414.5,484h11M414.5,492h11" stroke="#ff0000" stroke-width="1.3" fill="none"/>
<circle cx="420" cy="488" r="2.4" fill="#ff0000" stroke="none"/>
<path d="M427,473V481M421.5,473h11M421.5,481h11" stroke="#ff0000" stroke-width="1.3" fill="none"/>
<circle cx="427" cy="477" r="2.4" fill="#ff0000" stroke="none"/>
<path d="M433,461V469M427.5,461h11M427.5,469h11" stroke="#ff0000" stroke-width="1.3" fill="none"/>
<circle cx="433" cy="465" r="2.4" fill="#ff0000" stroke="none"/>
<path d="M446,436V444M440.5,436h11M440.5,444h11" stroke="#ff0000" stroke-width="1.3" fill="none"/>
<circle cx="446" cy="440" r="2.4" fill="#ff0000" stroke="none"/>
<path d="M452,427V435M446.5,427h11M446.5,435h11" stroke="#ff0000" stroke-width="1.3" fill="none"/>
<circle cx="452" cy="431" r="2.4" fill="#ff0000" stroke="none"/>
<path d="M391.8,498.8V509.2M385.8,498.8h12M385.8,509.2h12" stroke="#0000ff" stroke-width="1.6" fill="none"/>
<circle cx="391.8" cy="504" r="2" fill="#0000ff" stroke="none"/>
<path d="M402.2,482.4V492.4M396.2,482.4h12M396.2,492.4h12" stroke="#0000ff" stroke-width="1.6" fill="none"/>
<circle cx="402.2" cy="487.4" r="2" fill="#0000ff" stroke="none"/>
<path d="M407.9,471.1V481.1M401.9,471.1h12M401.9,481.1h12" stroke="#0000ff" stroke-width="1.6" fill="none"/>
<circle cx="407.9" cy="476.1" r="2" fill="#0000ff" stroke="none"/>
<path d="M417.3,461.3V470.3M411.3,461.3h12M411.3,470.3h12" stroke="#0000ff" stroke-width="1.6" fill="none"/>
<circle cx="417.3" cy="465.8" r="2" fill="#0000ff" stroke="none"/>
<path d="M422,451.8V460.8M416,451.8h12M416,460.8h12" stroke="#0000ff" stroke-width="1.6" fill="none"/>
<circle cx="422" cy="456.3" r="2" fill="#0000ff" stroke="none"/>
<path d="M430.5,444.3V453.3M424.5,444.3h12M424.5,453.3h12" stroke="#0000ff" stroke-width="1.6" fill="none"/>
<circle cx="430.5" cy="448.8" r="2" fill="#0000ff" stroke="none"/>
<path d="M438,432V441M432,432h12M432,441h12" stroke="#0000ff" stroke-width="1.6" fill="none"/>
<circle cx="438" cy="436.5" r="2" fill="#0000ff" stroke="none"/>
<path d="M442.7,421.7V430.7M436.7,421.7h12M436.7,430.7h12" stroke="#0000ff" stroke-width="1.6" fill="none"/>
<circle cx="442.7" cy="426.2" r="2" fill="#0000ff" stroke="none"/>
<path d="M447.4,408V418M441.4,408h12M441.4,418h12" stroke="#0000ff" stroke-width="1.6" fill="none"/>
<circle cx="447.4" cy="413" r="2" fill="#0000ff" stroke="none"/>
<path d="M461.6,416V425M455.6,416h12M455.6,425h12" stroke="#0000ff" stroke-width="1.6" fill="none"/>
<circle cx="461.6" cy="420.5" r="2" fill="#0000ff" stroke="none"/>
<path d="M460.9,422.5V431.5M454.9,422.5h12M454.9,431.5h12" stroke="#0000ff" stroke-width="1.6" fill="none"/>
<circle cx="460.9" cy="427" r="2" fill="#0000ff" stroke="none"/>
<path d="M390.6,520.6V534.4M385.1,520.6h11M385.1,534.4h11" stroke="#22e022" stroke-width="1.2" fill="none"/>
<circle cx="390.6" cy="527.75" r="2.4" fill="#00f000" stroke="none"/>
<path d="M399.1,518.5V530.6M393.6,518.5h11M393.6,530.6h11" stroke="#22e022" stroke-width="1.2" fill="none"/>
<circle cx="399.1" cy="524.6" r="2.4" fill="#00f000" stroke="none"/>
<path d="M463.5,431.8V462.4M458,431.8h11M458,462.4h11M457.9,448.8H469.1" stroke="#30ee30" stroke-width="1.2" fill="none"/>
<circle cx="463.5" cy="448.8" r="2.8" fill="#00ff00" stroke="none"/>
<path d="M458.4,402.6V416.6M452.9,402.6h11M452.9,416.6h11" stroke="#30ee30" stroke-width="1.2" fill="none"/>
<circle cx="458.4" cy="409.6" r="2.7" fill="#00ff00" stroke="none"/>
<path d="M444.6,414.2V424.2M439.1,414.2h11M439.1,424.2h11" stroke="#30ee30" stroke-width="1.2" fill="none"/>
<circle cx="444.6" cy="419.2" r="2.7" fill="#00ff00" stroke="none"/>
<path d="M453.1,418V428M447.6,418h11M447.6,428h11" stroke="#30ee30" stroke-width="1.2" fill="none"/>
<circle cx="453.1" cy="423" r="2.7" fill="#00ff00" stroke="none"/>
<path d="M448.4,423.6V433.6M442.9,423.6h11M442.9,433.6h11" stroke="#30ee30" stroke-width="1.2" fill="none"/>
<circle cx="448.4" cy="428.6" r="2.7" fill="#00ff00" stroke="none"/>
<path d="M441.8,426.8V436.8M436.3,426.8h11M436.3,436.8h11" stroke="#30ee30" stroke-width="1.2" fill="none"/>
<circle cx="441.8" cy="431.8" r="2.7" fill="#00ff00" stroke="none"/>
<path d="M438,434.4V444.4M432.5,434.4h11M432.5,444.4h11" stroke="#30ee30" stroke-width="1.2" fill="none"/>
<circle cx="438" cy="439.4" r="2.7" fill="#00ff00" stroke="none"/>
<path d="M434.8,441.4V451.4M429.3,441.4h11M429.3,451.4h11" stroke="#30ee30" stroke-width="1.2" fill="none"/>
<circle cx="434.8" cy="446.4" r="2.7" fill="#00ff00" stroke="none"/>
<path d="M431.2,449.5V459.5M425.7,449.5h11M425.7,459.5h11" stroke="#30ee30" stroke-width="1.2" fill="none"/>
<circle cx="431.2" cy="454.5" r="2.7" fill="#00ff00" stroke="none"/>
<path d="M428.6,457V467M423.1,457h11M423.1,467h11" stroke="#30ee30" stroke-width="1.2" fill="none"/>
<circle cx="428.6" cy="462" r="2.7" fill="#00ff00" stroke="none"/>
<path d="M420.1,465.5V475.5M414.6,465.5h11M414.6,475.5h11" stroke="#30ee30" stroke-width="1.2" fill="none"/>
<circle cx="420.1" cy="470.5" r="2.7" fill="#00ff00" stroke="none"/>
<path d="M411.6,466V478M406.1,466h11M406.1,478h11" stroke="#30ee30" stroke-width="1.2" fill="none"/>
<circle cx="411.6" cy="472" r="2.7" fill="#00ff00" stroke="none"/>
<path d="M422.9,469.3V479.3M417.4,469.3h11M417.4,479.3h11" stroke="#30ee30" stroke-width="1.2" fill="none"/>
<circle cx="422.9" cy="474.3" r="2.7" fill="#00ff00" stroke="none"/>
<path d="M425.8,473V483M420.3,473h11M420.3,483h11" stroke="#30ee30" stroke-width="1.2" fill="none"/>
<circle cx="425.8" cy="478" r="2.7" fill="#00ff00" stroke="none"/>
<path d="M415.4,474V484M409.9,474h11M409.9,484h11" stroke="#30ee30" stroke-width="1.2" fill="none"/>
<circle cx="415.4" cy="479" r="2.7" fill="#00ff00" stroke="none"/>
<path d="M413.5,478.7V488.7M408,478.7h11M408,488.7h11" stroke="#30ee30" stroke-width="1.2" fill="none"/>
<circle cx="413.5" cy="483.7" r="2.7" fill="#00ff00" stroke="none"/>
<path d="M405,482.4V494.4M399.5,482.4h11M399.5,494.4h11" stroke="#30ee30" stroke-width="1.2" fill="none"/>
<circle cx="405" cy="488.4" r="2.7" fill="#00ff00" stroke="none"/>
<path d="M407.9,487.2V497.2M402.4,487.2h11M402.4,497.2h11" stroke="#30ee30" stroke-width="1.2" fill="none"/>
<circle cx="407.9" cy="492.2" r="2.7" fill="#00ff00" stroke="none"/>
<path d="M402,735V746.25M396.25,735h11.5M396.25,746.25h11.5" stroke="#000" stroke-width="1.8" fill="none"/>
<circle cx="402" cy="740.75" r="2.9" fill="#000" stroke="none"/>
<path d="M414.5,701.25V712.5M408.75,701.25h11.5M408.75,712.5h11.5" stroke="#000" stroke-width="1.8" fill="none"/>
<circle cx="414.5" cy="706.75" r="2.9" fill="#000" stroke="none"/>
<path d="M421.5,676.25V687M415.75,676.25h11.5M415.75,687h11.5" stroke="#000" stroke-width="1.8" fill="none"/>
<circle cx="421.5" cy="681.75" r="2.9" fill="#000" stroke="none"/>
<path d="M427.75,673.75V684.5M422,673.75h11.5M422,684.5h11.5" stroke="#000" stroke-width="1.8" fill="none"/>
<circle cx="427.75" cy="678.75" r="2.9" fill="#000" stroke="none"/>
<path d="M437.5,653.75V665M431.75,653.75h11.5M431.75,665h11.5" stroke="#000" stroke-width="1.8" fill="none"/>
<circle cx="437.5" cy="659.25" r="2.9" fill="#000" stroke="none"/>
<path d="M451.5,645.5V656.25M445.75,645.5h11.5M445.75,656.25h11.5" stroke="#000" stroke-width="1.8" fill="none"/>
<circle cx="451.5" cy="650.75" r="2.9" fill="#000" stroke="none"/>
<path d="M461,615.75V646.25M455.25,615.75h11.5M455.25,646.25h11.5" stroke="#000" stroke-width="1.8" fill="none"/>
<circle cx="461" cy="632.5" r="2.9" fill="#000" stroke="none"/>
<path d="M501.25,339.5V394" stroke="#ff0000" stroke-width="1.2" fill="none"/>
<circle cx="501.25" cy="339.5" r="5.7" fill="#ff0000" stroke="none"/>
<path d="M501.25,305V360" stroke="#0000ff" stroke-width="1.5" fill="none"/>
<circle cx="501.25" cy="327.5" r="5.8" fill="#0000ff" stroke="none"/>
<path d="M501.25,243.75V288.75" stroke="#00ff00" stroke-width="1.5" fill="none"/>
<circle cx="501.25" cy="263.75" r="6" fill="#00ff00" stroke="none"/>
<rect x="255.45" y="486.25" width="6.5" height="6.5" fill="#00ffff" stroke="none"/>
<path d="M258.7,486.3V492.7M253.95,486.3h9.5M253.95,492.7h9.5" stroke="#00ffff" stroke-width="2.0" fill="none"/>
<rect x="261.35" y="486.25" width="6.5" height="6.5" fill="#00ffff" stroke="none"/>
<path d="M264.6,486.3V492.7M259.85,486.3h9.5M259.85,492.7h9.5" stroke="#00ffff" stroke-width="2.0" fill="none"/>
<rect x="265.75" y="497.85" width="6.5" height="6.5" fill="#00ffff" stroke="none"/>
<path d="M269,497.9V504.3M264.25,497.9h9.5M264.25,504.3h9.5" stroke="#00ffff" stroke-width="2.0" fill="none"/>
<rect x="277.75" y="500.25" width="6.5" height="6.5" fill="#00ffff" stroke="none"/>
<path d="M281,500.3V506.7M276.25,500.3h9.5M276.25,506.7h9.5" stroke="#00ffff" stroke-width="2.0" fill="none"/>
<rect x="280.85" y="514.25" width="6.5" height="6.5" fill="#00ffff" stroke="none"/>
<path d="M284.1,514.3V520.7M279.35,514.3h9.5M279.35,520.7h9.5" stroke="#00ffff" stroke-width="2.0" fill="none"/>
<rect x="273.75" y="517.75" width="6.5" height="6.5" fill="#00ffff" stroke="none"/>
<path d="M277,517.8V524.2M272.25,517.8h9.5M272.25,524.2h9.5" stroke="#00ffff" stroke-width="2.0" fill="none"/>
<path d="M257.5,465.2V470.4M252.75,465.2h9.5M252.75,470.4h9.5" stroke="#0000ff" stroke-width="2.2" fill="none"/>
<rect x="254.9" y="465.2" width="5.2" height="5.2" fill="#0000ff" stroke="none"/>
<path d="M269.8,467.6V473.2M265.05,467.6h9.5M265.05,473.2h9.5" stroke="#0000ff" stroke-width="2.2" fill="none"/>
<rect x="267.2" y="467.8" width="5.2" height="5.2" fill="#0000ff" stroke="none"/>
<path d="M281,472.5V478.5M276.25,472.5h9.5M276.25,478.5h9.5" stroke="#0000ff" stroke-width="2.2" fill="none"/>
<rect x="278.4" y="472.9" width="5.2" height="5.2" fill="#0000ff" stroke="none"/>
<path d="M283.3,486.2V492.2M278.55,486.2h9.5M278.55,492.2h9.5" stroke="#0000ff" stroke-width="2.2" fill="none"/>
<rect x="280.7" y="486.6" width="5.2" height="5.2" fill="#0000ff" stroke="none"/>
<rect x="276.8" y="477.4" width="8.4" height="8.4" fill="#00ff00" stroke="none"/>
<rect x="272.8" y="490.6" width="8.4" height="8.4" fill="#00ff00" stroke="none"/>
<rect x="279.1" y="491.4" width="8.4" height="8.4" fill="#00ff00" stroke="none"/>
<circle cx="258.7" cy="479.4" r="4.5" fill="#ff0000" stroke="none"/>
<circle cx="264.6" cy="482.1" r="4.5" fill="#ff0000" stroke="none"/>
<circle cx="268.7" cy="495.6" r="4.5" fill="#ff0000" stroke="none"/>
<circle cx="277" cy="511.1" r="4.5" fill="#ff0000" stroke="none"/>
<circle cx="283.7" cy="511.1" r="4.5" fill="#ff0000" stroke="none"/>
<circle cx="222.7" cy="414" r="3.9" fill="#00ff00" stroke="none"/>
<circle cx="236.7" cy="427.5" r="3.9" fill="#00ff00" stroke="none"/>
<circle cx="254" cy="450" r="3.9" fill="#00ff00" stroke="none"/>
<circle cx="258.3" cy="462.2" r="3.9" fill="#00ff00" stroke="none"/>
<circle cx="263.8" cy="467" r="3.9" fill="#00ff00" stroke="none"/>
<path d="M280.8,564.6V575.8M275.05,564.6h11.5M275.05,575.8h11.5" stroke="#000" stroke-width="1.8" fill="none"/>
<rect x="276.8" y="564.6" width="8" height="11.2" fill="#fff" stroke="#000" stroke-width="1.8"/>
<path d="M257.1,590.8V603.2M251.6,590.8h11M251.6,603.2h11" stroke="#000" stroke-width="1.7" fill="none"/>
<rect x="254" y="594.1" width="6.2" height="6.2" fill="#fff" stroke="#000" stroke-width="2.0"/>
<path d="M260.6,591V603.2M255.1,591h11M255.1,603.2h11" stroke="#000" stroke-width="1.7" fill="none"/>
<rect x="257.5" y="594.3" width="6.2" height="6.2" fill="#fff" stroke="#000" stroke-width="2.0"/>
<path d="M266.2,593V605.4M260.7,593h11M260.7,605.4h11" stroke="#000" stroke-width="1.7" fill="none"/>
<rect x="263.1" y="595.5" width="6.2" height="6.2" fill="#fff" stroke="#000" stroke-width="2.0"/>
<path d="M270.5,593.5V602.5M265,593.5h11M265,602.5h11" stroke="#000" stroke-width="1.7" fill="none"/>
<rect x="267.4" y="594.9" width="6.2" height="6.2" fill="#fff" stroke="#000" stroke-width="2.0"/>
<path d="M275.5,593.5V602M270,593.5h11M270,602h11" stroke="#000" stroke-width="1.7" fill="none"/>
<rect x="272.4" y="594.7" width="6.2" height="6.2" fill="#fff" stroke="#000" stroke-width="2.0"/>
<path d="M279.6,593.5V602M274.1,593.5h11M274.1,602h11" stroke="#000" stroke-width="1.7" fill="none"/>
<rect x="276.5" y="594.7" width="6.2" height="6.2" fill="#fff" stroke="#000" stroke-width="2.0"/>
<rect x="281.3" y="581.7" width="7" height="7" fill="#fff" stroke="#000" stroke-width="2.0"/>
<path d="M284.8,582v6.5" stroke="#000" stroke-width="1.5"/>
<rect x="254.9" y="571.1" width="7.6" height="7.6" fill="#ff6600" stroke="none"/>
<path d="M258.7,571.5V578.3M253.95,571.5h9.5M253.95,578.3h9.5" stroke="#ff6600" stroke-width="1.6" fill="none"/>
<rect x="260.8" y="569.5" width="7.6" height="7.6" fill="#ff6600" stroke="none"/>
<path d="M264.6,569.9V576.7M259.85,569.9h9.5M259.85,576.7h9.5" stroke="#ff6600" stroke-width="1.6" fill="none"/>
<rect x="266" y="574.3" width="7.6" height="7.6" fill="#ff6600" stroke="none"/>
<path d="M269.8,574.7V581.5M265.05,574.7h9.5M265.05,581.5h9.5" stroke="#ff6600" stroke-width="1.6" fill="none"/>
<rect x="273.2" y="580.6" width="7.6" height="7.6" fill="#ff6600" stroke="none"/>
<path d="M277,581V587.8M272.25,581h9.5M272.25,587.8h9.5" stroke="#ff6600" stroke-width="1.6" fill="none"/>
<rect x="279.9" y="567.9" width="7.6" height="7.6" fill="#ff6600" stroke="none"/>
<path d="M283.7,568.3V575.1M278.95,568.3h9.5M278.95,575.1h9.5" stroke="#ff6600" stroke-width="1.6" fill="none"/>
<path d="M281,556.2V565.4M276.65,556.2h8.7M276.65,565.4h8.7" stroke="#ff6600" stroke-width="1.7" fill="none"/>
<circle cx="281" cy="560.5" r="4" fill="#ff6600" stroke="none"/>
<path d="M716,255V298.75M712,255h8M712,298.75h8M708,274.25H724M708,270.25v8M724,270.25v8" stroke="#ff6600" stroke-width="2.0" fill="none"/>
<circle cx="716" cy="274.25" r="3.9" fill="#ff6600" stroke="none"/>
<path d="M731,287.5V321.5M727,287.5h8M727,321.5h8M723,303.25H739M723,299.25v8M739,299.25v8" stroke="#ff6600" stroke-width="2.0" fill="none"/>
<circle cx="731" cy="303.25" r="3.9" fill="#ff6600" stroke="none"/>
<path d="M745.75,329.5V379M741.75,329.5h8M741.75,379h8M737.75,350.75H753.75M737.75,346.75v8M753.75,346.75v8" stroke="#ff6600" stroke-width="2.0" fill="none"/>
<circle cx="745.75" cy="350.75" r="3.9" fill="#ff6600" stroke="none"/>
<path d="M761,342V402.5M757,342h8M757,402.5h8M753,367H769M753,363v8M769,363v8" stroke="#ff6600" stroke-width="2.0" fill="none"/>
<circle cx="761" cy="367" r="3.9" fill="#ff6600" stroke="none"/>
<path d="M783.25,406.5V500.25M779.25,406.5h8M779.25,500.25h8M767.85,440.75H798.65M767.85,436.75v8M798.65,436.75v8" stroke="#ff6600" stroke-width="2.0" fill="none"/>
<circle cx="783.25" cy="440.75" r="3.9" fill="#ff6600" stroke="none"/>
<path d="M720.25,180V207M716.25,180h8M716.25,207h8M708.25,192.5H732.25M708.25,188.5v8M732.25,188.5v8" stroke="#00ffff" stroke-width="2.0" fill="none"/>
<circle cx="720.25" cy="192.5" r="3.9" fill="#00ffff" stroke="none"/>
<path d="M742,183V203M738,183h8M738,203h8M730,192.5H754M730,188.5v8M754,188.5v8" stroke="#00ffff" stroke-width="2.0" fill="none"/>
<circle cx="742" cy="192.5" r="3.9" fill="#00ffff" stroke="none"/>
<path d="M767.75,204.25V233M763.75,204.25h8M763.75,233h8M755.75,217H779.75M755.75,213v8M779.75,213v8" stroke="#00ffff" stroke-width="2.0" fill="none"/>
<circle cx="767.75" cy="217" r="3.9" fill="#00ffff" stroke="none"/>
<path d="M790.75,212V255M786.75,212h8M786.75,255h8M778.75,230H802.75M778.75,226v8M802.75,226v8" stroke="#00ffff" stroke-width="2.0" fill="none"/>
<circle cx="790.75" cy="230" r="3.9" fill="#00ffff" stroke="none"/>
<path d="M814.5,285.75V396.25M810.5,285.75h8M810.5,396.25h8M802.25,325H826.75M802.25,321v8M826.75,321v8" stroke="#00ffff" stroke-width="2.0" fill="none"/>
<circle cx="814.5" cy="325" r="3.9" fill="#00ffff" stroke="none"/>
<path d="M716,141.5V174.25M712,141.5h8M712,174.25h8M708.5,156.5H723.5M708.5,152.5v8M723.5,152.5v8" stroke="#ff0000" stroke-width="2.0" fill="none"/>
<circle cx="716" cy="156.5" r="3.9" fill="#ff0000" stroke="none"/>
<path d="M731.5,148V167M727.5,148h8M727.5,167h8M723.8,156.5H739.2M723.8,152.5v8M739.2,152.5v8" stroke="#ff0000" stroke-width="2.0" fill="none"/>
<circle cx="731.5" cy="156.5" r="3.9" fill="#ff0000" stroke="none"/>
<path d="M745.75,173.75V194.5M741.75,173.75h8M741.75,194.5h8M737.75,183.25H753.75M737.75,179.25v8M753.75,179.25v8" stroke="#ff0000" stroke-width="2.0" fill="none"/>
<circle cx="745.75" cy="183.25" r="3.9" fill="#ff0000" stroke="none"/>
<path d="M761,183V210M757,183h8M757,210h8M753,194.5H769M753,190.5v8M769,190.5v8" stroke="#ff0000" stroke-width="2.0" fill="none"/>
<circle cx="761" cy="194.5" r="3.9" fill="#ff0000" stroke="none"/>
<path d="M775.75,242.5V289.5M771.75,242.5h8M771.75,289.5h8M767.75,263H783.75M767.75,259v8M783.75,259v8" stroke="#ff0000" stroke-width="2.0" fill="none"/>
<circle cx="775.75" cy="263" r="3.9" fill="#ff0000" stroke="none"/>
<path d="M806,285V352.75M802,285h8M802,352.75h8M783.4,313.25H828.6M783.4,309.25v8M828.6,309.25v8" stroke="#ff0000" stroke-width="2.0" fill="none"/>
<circle cx="806" cy="313.25" r="3.9" fill="#ff0000" stroke="none"/>
<path d="M717,113.5V137.5M713,113.5h8M713,137.5h8M708.5,125H725.5M708.5,121v8M725.5,121v8" stroke="#00ff00" stroke-width="2.0" fill="none"/>
<circle cx="717" cy="125" r="3.9" fill="#00ff00" stroke="none"/>
<path d="M734,125V139M730,125h8M730,139h8M725.3,131.5H742.7M725.3,127.5v8M742.7,127.5v8" stroke="#00ff00" stroke-width="2.0" fill="none"/>
<circle cx="734" cy="131.5" r="3.9" fill="#00ff00" stroke="none"/>
<path d="M751,147.5V164.5M747,147.5h8M747,164.5h8M742,155.5H760M742,151.5v8M760,151.5v8" stroke="#00ff00" stroke-width="2.0" fill="none"/>
<circle cx="751" cy="155.5" r="3.9" fill="#00ff00" stroke="none"/>
<path d="M768,146V166.5M764,146h8M764,166.5h8M759.5,155H776.5M759.5,151v8M776.5,151v8" stroke="#00ff00" stroke-width="2.0" fill="none"/>
<circle cx="768" cy="155" r="3.9" fill="#00ff00" stroke="none"/>
<path d="M783.5,168.75V202.5M779.5,168.75h8M779.5,202.5h8M775.5,184.25H791.5M775.5,180.25v8M791.5,180.25v8" stroke="#00ff00" stroke-width="2.0" fill="none"/>
<circle cx="783.5" cy="184.25" r="3.9" fill="#00ff00" stroke="none"/>
<path d="M801,177.5V222.5M797,177.5h8M797,222.5h8M792,197H810M792,193v8M810,193v8" stroke="#00ff00" stroke-width="2.0" fill="none"/>
<circle cx="801" cy="197" r="3.9" fill="#00ff00" stroke="none"/>
<path d="M825.75,218V298M821.75,218h8M821.75,298h8M808.75,248.75H842.75M808.75,244.75v8M842.75,244.75v8" stroke="#00ff00" stroke-width="2.0" fill="none"/>
<circle cx="825.75" cy="248.75" r="3.9" fill="#00ff00" stroke="none"/>
<path d="M716,82.2V103M712,82.2h8M712,103h8M708.3,92H723.7M708.3,88v8M723.7,88v8" stroke="#0000ff" stroke-width="2.0" fill="none"/>
<circle cx="716" cy="92" r="3.9" fill="#0000ff" stroke="none"/>
<path d="M731.5,98V111M727.5,98h8M727.5,111h8M724,104.5H739M724,100.5v8M739,100.5v8" stroke="#0000ff" stroke-width="2.0" fill="none"/>
<circle cx="731.5" cy="104.5" r="3.9" fill="#0000ff" stroke="none"/>
<path d="M746.5,112.5V126.5M742.5,112.5h8M742.5,126.5h8M738.5,119H754.5M738.5,115v8M754.5,115v8" stroke="#0000ff" stroke-width="2.0" fill="none"/>
<circle cx="746.5" cy="119" r="3.9" fill="#0000ff" stroke="none"/>
<path d="M761.5,135.5V153M757.5,135.5h8M757.5,153h8M754,144H769M754,140v8M769,140v8" stroke="#0000ff" stroke-width="2.0" fill="none"/>
<circle cx="761.5" cy="144" r="3.9" fill="#0000ff" stroke="none"/>
<path d="M776,146V172M772,146h8M772,172h8M768.5,158H783.5M768.5,154v8M783.5,154v8" stroke="#0000ff" stroke-width="2.0" fill="none"/>
<circle cx="776" cy="158" r="3.9" fill="#0000ff" stroke="none"/>
<path d="M790.25,173.75V216.25M786.25,173.75h8M786.25,216.25h8M782.25,192.5H798.25M782.25,188.5v8M798.25,188.5v8" stroke="#0000ff" stroke-width="2.0" fill="none"/>
<circle cx="790.25" cy="192.5" r="3.9" fill="#0000ff" stroke="none"/>
<path d="M813.25,209.25V271.25M809.25,209.25h8M809.25,271.25h8M798.25,235H828.25M798.25,231v8M828.25,231v8" stroke="#0000ff" stroke-width="2.0" fill="none"/>
<circle cx="813.25" cy="235" r="3.9" fill="#0000ff" stroke="none"/>
<path d="M716,383.25V405M712,383.25h8M712,405h8M708,393.75H724M708,389.75v8M724,389.75v8" stroke="#000" stroke-width="2.3" fill="none"/>
<circle cx="716" cy="393.75" r="4.3" fill="#000" stroke="none"/>
<path d="M731,399.5V406.25M727,399.5h8M727,406.25h8M723,402.75H739M723,398.75v8M739,398.75v8" stroke="#000" stroke-width="2.3" fill="none"/>
<circle cx="731" cy="402.75" r="4.3" fill="#000" stroke="none"/>
<path d="M745.75,422V429.5M741.75,422h8M741.75,429.5h8M737.75,425.75H753.75M737.75,421.75v8M753.75,421.75v8" stroke="#000" stroke-width="2.3" fill="none"/>
<circle cx="745.75" cy="425.75" r="4.3" fill="#000" stroke="none"/>
<path d="M761,443.25V452.5M757,443.25h8M757,452.5h8M753,447.5H769M753,443.5v8M769,443.5v8" stroke="#000" stroke-width="2.3" fill="none"/>
<circle cx="761" cy="447.5" r="4.3" fill="#000" stroke="none"/>
<path d="M775.75,465.75V479.5M771.75,465.75h8M771.75,479.5h8M768.25,472H783.25M768.25,468v8M783.25,468v8" stroke="#000" stroke-width="2.3" fill="none"/>
<circle cx="775.75" cy="472" r="4.3" fill="#000" stroke="none"/>
<path d="M790.75,488.25V509M786.75,488.25h8M786.75,509h8M783.25,498.25H798.25M783.25,494.25v8M798.25,494.25v8" stroke="#000" stroke-width="2.3" fill="none"/>
<circle cx="790.75" cy="498.25" r="4.3" fill="#000" stroke="none"/>
<path d="M805.75,560V601.75M801.75,560h8M801.75,601.75h8M798.75,578.75H812.75M798.75,574.75v8M812.75,574.75v8" stroke="#000" stroke-width="2.3" fill="none"/>
<circle cx="805.75" cy="578.75" r="4.3" fill="#000" stroke="none"/>
<path d="M820.75,602.5V680.5M816.75,602.5h8M816.75,680.5h8M813.75,633.25H827.75M813.75,629.25v8M827.75,629.25v8" stroke="#000" stroke-width="2.3" fill="none"/>
<circle cx="820.75" cy="633.25" r="4.3" fill="#000" stroke="none"/>
</g>
<rect x="156.05" y="54.9" width="706.5" height="768.5" fill="none" stroke="#000" stroke-width="2"/>
<text x="214.93" y="863.8" font-size="34.5" fill="#000" textLength="38.5" lengthAdjust="spacingAndGlyphs" text-anchor="middle" stroke="#000" stroke-width="0.35">14</text>
<text x="332.68" y="863.8" font-size="34.5" fill="#000" textLength="38.5" lengthAdjust="spacingAndGlyphs" text-anchor="middle" stroke="#000" stroke-width="0.35">16</text>
<text x="450.43" y="863.8" font-size="34.5" fill="#000" textLength="38.5" lengthAdjust="spacingAndGlyphs" text-anchor="middle" stroke="#000" stroke-width="0.35">18</text>
<text x="568.47" y="863.8" font-size="34.5" fill="#000" textLength="40" lengthAdjust="spacingAndGlyphs" text-anchor="middle" stroke="#000" stroke-width="0.35">20</text>
<text x="686.22" y="863.8" font-size="34.5" fill="#000" textLength="40.5" lengthAdjust="spacingAndGlyphs" text-anchor="middle" stroke="#000" stroke-width="0.35">22</text>
<text x="803.97" y="863.8" font-size="34.5" fill="#000" textLength="39.5" lengthAdjust="spacingAndGlyphs" text-anchor="middle" stroke="#000" stroke-width="0.35">24</text>
<text x="138" y="219.9" font-size="34.5" fill="#000" textLength="20" lengthAdjust="spacingAndGlyphs" text-anchor="end" stroke="#000" stroke-width="0.35">9</text>
<text x="114.4" y="219.9" font-size="34.5" fill="#000" textLength="22" lengthAdjust="spacingAndGlyphs" text-anchor="end" stroke="#000" stroke-width="0.35">−</text>
<text x="137.3" y="412.03" font-size="34.5" fill="#000" textLength="38.8" lengthAdjust="spacingAndGlyphs" text-anchor="end" stroke="#000" stroke-width="0.35">10</text>
<text x="94" y="412.03" font-size="34.5" fill="#000" textLength="22" lengthAdjust="spacingAndGlyphs" text-anchor="end" stroke="#000" stroke-width="0.35">−</text>
<text x="134.8" y="604.15" font-size="34.5" fill="#000" textLength="36.6" lengthAdjust="spacingAndGlyphs" text-anchor="end" stroke="#000" stroke-width="0.35">11</text>
<text x="94" y="604.15" font-size="34.5" fill="#000" textLength="22" lengthAdjust="spacingAndGlyphs" text-anchor="end" stroke="#000" stroke-width="0.35">−</text>
<text x="138.3" y="796.27" font-size="34.5" fill="#000" textLength="39.5" lengthAdjust="spacingAndGlyphs" text-anchor="end" stroke="#000" stroke-width="0.35">12</text>
<text x="94" y="796.27" font-size="34.5" fill="#000" textLength="22" lengthAdjust="spacingAndGlyphs" text-anchor="end" stroke="#000" stroke-width="0.35">−</text>
<text x="881.5" y="134.6" font-size="34.5" fill="#000" textLength="38.5" lengthAdjust="spacingAndGlyphs" stroke="#000" stroke-width="0.35">49</text>
<text x="881.5" y="326.73" font-size="34.5" fill="#000" textLength="38.5" lengthAdjust="spacingAndGlyphs" stroke="#000" stroke-width="0.35">48</text>
<text x="881.5" y="518.85" font-size="34.5" fill="#000" textLength="38.5" lengthAdjust="spacingAndGlyphs" stroke="#000" stroke-width="0.35">47</text>
<text x="881.5" y="710.97" font-size="34.5" fill="#000" textLength="38.5" lengthAdjust="spacingAndGlyphs" stroke="#000" stroke-width="0.35">46</text>
<text x="419.5" y="907.8" font-size="35" fill="#000" textLength="55" lengthAdjust="spacingAndGlyphs" stroke="#000" stroke-width="0.35">Log</text>
<text x="493.8" y="907.8" font-size="34" fill="#000" textLength="17.5" lengthAdjust="spacingAndGlyphs" font-style="italic" stroke="#000" stroke-width="0.35">ν</text>
<text x="530" y="909.2" font-size="40.5" fill="#000" textLength="12.5" lengthAdjust="spacingAndGlyphs" stroke="#000" stroke-width="0.35">[</text>
<text x="542.5" y="907.8" font-size="35" fill="#000" textLength="42" lengthAdjust="spacingAndGlyphs" stroke="#000" stroke-width="0.35">Hz</text>
<text x="586.2" y="909.2" font-size="40.5" fill="#000" textLength="12.5" lengthAdjust="spacingAndGlyphs" stroke="#000" stroke-width="0.35">]</text>
<g transform="translate(43.3,629.3) rotate(-90)"><text x="-0.5" y="0" font-size="35" fill="#000" textLength="55" lengthAdjust="spacingAndGlyphs" stroke="#000" stroke-width="0.35">Log</text><text x="73.5" y="0" font-size="32" fill="#000" textLength="16.5" lengthAdjust="spacingAndGlyphs" font-style="italic" stroke="#000" stroke-width="0.35">ν</text><text x="92.5" y="0" font-size="35" fill="#000" textLength="19.5" lengthAdjust="spacingAndGlyphs" stroke="#000" stroke-width="0.35">F</text><text x="112.5" y="8.5" font-size="24" fill="#000" textLength="12.5" lengthAdjust="spacingAndGlyphs" font-style="italic" stroke="#000" stroke-width="0.35">ν</text><text x="140.5" y="1.2" font-size="40.5" fill="#000" textLength="12.5" lengthAdjust="spacingAndGlyphs" stroke="#000" stroke-width="0.35">[</text><text x="154.5" y="0" font-size="35" fill="#000" textLength="53.5" lengthAdjust="spacingAndGlyphs" stroke="#000" stroke-width="0.35">erg</text><text x="226.5" y="0" font-size="35" fill="#000" textLength="15.5" lengthAdjust="spacingAndGlyphs" stroke="#000" stroke-width="0.35">s</text><text x="245" y="-9.5" font-size="23" fill="#000" textLength="9.5" lengthAdjust="spacingAndGlyphs" stroke="#000" stroke-width="0.35">−</text><text x="258.5" y="-9.5" font-size="23" fill="#000" textLength="11.5" lengthAdjust="spacingAndGlyphs" stroke="#000" stroke-width="0.35">1</text><text x="288.5" y="0" font-size="35" fill="#000" textLength="51.5" lengthAdjust="spacingAndGlyphs" stroke="#000" stroke-width="0.35">cm</text><text x="342" y="-9.5" font-size="23" fill="#000" textLength="9.5" lengthAdjust="spacingAndGlyphs" stroke="#000" stroke-width="0.35">−</text><text x="356" y="-9.5" font-size="23" fill="#000" textLength="13" lengthAdjust="spacingAndGlyphs" stroke="#000" stroke-width="0.35">2</text><text x="368.8" y="1.2" font-size="40.5" fill="#000" textLength="12.5" lengthAdjust="spacingAndGlyphs" stroke="#000" stroke-width="0.35">]</text></g>
<g transform="translate(970.3,600.3) rotate(-90)"><text x="-0.5" y="0" font-size="35" fill="#000" textLength="55" lengthAdjust="spacingAndGlyphs" stroke="#000" stroke-width="0.35">Log</text><text x="72" y="0" font-size="32" fill="#000" textLength="16.5" lengthAdjust="spacingAndGlyphs" font-style="italic" stroke="#000" stroke-width="0.35">ν</text><text x="92" y="0" font-size="35" fill="#000" textLength="18" lengthAdjust="spacingAndGlyphs" stroke="#000" stroke-width="0.35">L</text><text x="110.5" y="8.5" font-size="24" fill="#000" textLength="12.5" lengthAdjust="spacingAndGlyphs" font-style="italic" stroke="#000" stroke-width="0.35">ν</text><text x="139" y="1" font-size="40.5" fill="#000" textLength="12.5" lengthAdjust="spacingAndGlyphs" stroke="#000" stroke-width="0.35">[</text><text x="152" y="0" font-size="35" fill="#000" textLength="52.5" lengthAdjust="spacingAndGlyphs" stroke="#000" stroke-width="0.35">erg</text><text x="221.5" y="0" font-size="35" fill="#000" textLength="15.5" lengthAdjust="spacingAndGlyphs" stroke="#000" stroke-width="0.35">s</text><text x="242" y="-9.5" font-size="23" fill="#000" textLength="9.5" lengthAdjust="spacingAndGlyphs" stroke="#000" stroke-width="0.35">−</text><text x="256" y="-9.5" font-size="23" fill="#000" textLength="11.5" lengthAdjust="spacingAndGlyphs" stroke="#000" stroke-width="0.35">1</text><text x="268.8" y="1" font-size="40.5" fill="#000" textLength="12.5" lengthAdjust="spacingAndGlyphs" stroke="#000" stroke-width="0.35">]</text></g>
<text x="215.3" y="132.6" font-size="28.5" fill="#000" textLength="35.5" lengthAdjust="spacingAndGlyphs" stroke="#000" stroke-width="0.35">3C</text>
<text x="265" y="132.6" font-size="28.5" fill="#000" textLength="78.5" lengthAdjust="spacingAndGlyphs" stroke="#000" stroke-width="0.35">454.3</text>
<text x="215.5" y="190.2" font-size="28.5" fill="#000" textLength="116.5" lengthAdjust="spacingAndGlyphs" stroke="#000" stroke-width="0.35">z=0.859</text>
<text x="450" y="228.8" font-size="25.5" fill="#006400" textLength="65" lengthAdjust="spacingAndGlyphs" stroke="#006400" stroke-width="0.35">3/12</text>
<text x="774.6" y="112.9" font-size="24.5" fill="#000" textLength="60.3" lengthAdjust="spacingAndGlyphs" stroke="#000" stroke-width="0.35">2/12</text>
<text x="686" y="237.6" font-size="25" fill="#0000ff" textLength="74.5" lengthAdjust="spacingAndGlyphs" stroke="#0000ff" stroke-width="0.35">27/11</text>
<text x="568" y="343.8" font-size="25.5" fill="#ff0000" textLength="62.5" lengthAdjust="spacingAndGlyphs" stroke="#ff0000" stroke-width="0.35">6/11</text>
<g transform="translate(617.5,193.5) rotate(-29)"><text x="0" y="0" font-size="25.5" fill="#ff6600" textLength="59" lengthAdjust="spacingAndGlyphs" stroke="#ff6600" stroke-width="0.35">1/12</text></g>
<text x="569" y="497.7" font-size="24.5" fill="#808080" textLength="39.5" lengthAdjust="spacingAndGlyphs" stroke="#808080" stroke-width="0.5">low</text>
<text x="510" y="708.7" font-size="34" fill="#c95f5f" textLength="60.5" lengthAdjust="spacingAndGlyphs" stroke="#c95f5f" stroke-width="0.35">SSC</text>
<g transform="translate(452.3,609.6) rotate(-69.3)"><text x="0" y="0" font-size="34" fill="#c95f5f" textLength="37.5" lengthAdjust="spacingAndGlyphs" stroke="#c95f5f" stroke-width="0.35">EC</text></g>
</svg>
</body></html>
